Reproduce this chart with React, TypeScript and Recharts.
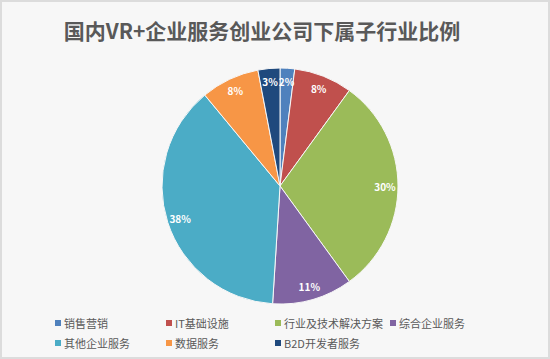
import { PieChart, Pie, Cell, Legend } from 'recharts'

const categories = ['销售营销', 'IT基础设施', '行业及技术解决方案', '综合企业服务', '其他企业服务', '数据服务', 'B2D开发者服务']
const shares = [2, 8, 30, 11, 38, 8, 3]
const colors = ['#4F81BD', '#C0504D', '#9BBB59', '#8064A2', '#4BACC6', '#F79646', '#1F497D']

const data = categories.map((name, i) => ({ name, value: shares[i] }))

const RAD = Math.PI / 180

function renderLabel(props: any) {
  const { cx, cy, midAngle, outerRadius, value } = props
  const r = outerRadius * 0.89
  const x = cx + r * Math.cos(-midAngle * RAD)
  const y = cy + r * Math.sin(-midAngle * RAD)
  return (
    <text x={x} y={y} fill="#fff" fontSize={10} fontWeight={600} textAnchor="middle" dominantBaseline="central">
      {value}%
    </text>
  )
}

// legend order: row 1 then row 2, four fixed columns
const legendOrder = [0, 1, 2, 3, 4, 5, 6]
const colLeft = [55, 166, 275, 390]

function LegendBox() {
  return (
    <div style={{ position: 'relative', width: 550, height: 42 }}>
      {legendOrder.map((idx, k) => (
        <div
          key={categories[idx]}
          style={{
            position: 'absolute',
            left: colLeft[k % 4],
            top: k < 4 ? 0 : 20,
            display: 'flex',
            alignItems: 'center',
            fontSize: 11,
            color: '#595959',
            whiteSpace: 'nowrap',
          }}
        >
          <span style={{ display: 'inline-block', width: 6, height: 6, background: colors[idx], marginRight: 3 }} />
          {categories[idx]}
        </div>
      ))}
    </div>
  )
}

export default function App() {
  return (
    <div
      style={{
        position: 'absolute',
        left: 0,
        top: 0,
        width: 550,
        height: 359,
        boxSizing: 'border-box',
        border: '2px solid #dcdcdc',
        background: '#f7f7f7',
        fontFamily: '"Noto Sans CJK SC", "Noto Sans", sans-serif',
        overflow: 'hidden',
      }}
    >
      <div
        style={{
          position: 'absolute',
          top: 13,
          left: 0,
          width: 520,
          textAlign: 'center',
          fontSize: 21,
          fontWeight: 700,
          color: '#595959',
        }}
      >
        国内VR+企业服务创业公司下属子行业比例
      </div>
      <div style={{ position: 'absolute', left: -2, top: -2 }}>
        <PieChart width={550} height={359}>
          <Pie
            data={data}
            dataKey="value"
            nameKey="name"
            cx={275}
            cy={181}
            outerRadius={118}
            startAngle={90}
            endAngle={-270}
            stroke="#f7f7f7"
            strokeWidth={1}
            label={renderLabel}
            labelLine={false}
            isAnimationActive={false}
          >
            {data.map((d, i) => (
              <Cell key={d.name} fill={colors[i]} />
            ))}
          </Pie>
          <Legend
            verticalAlign="bottom"
            content={() => <LegendBox />}
            wrapperStyle={{ left: 0, bottom: 2 }}
          />
        </PieChart>
      </div>
    </div>
  )
}
